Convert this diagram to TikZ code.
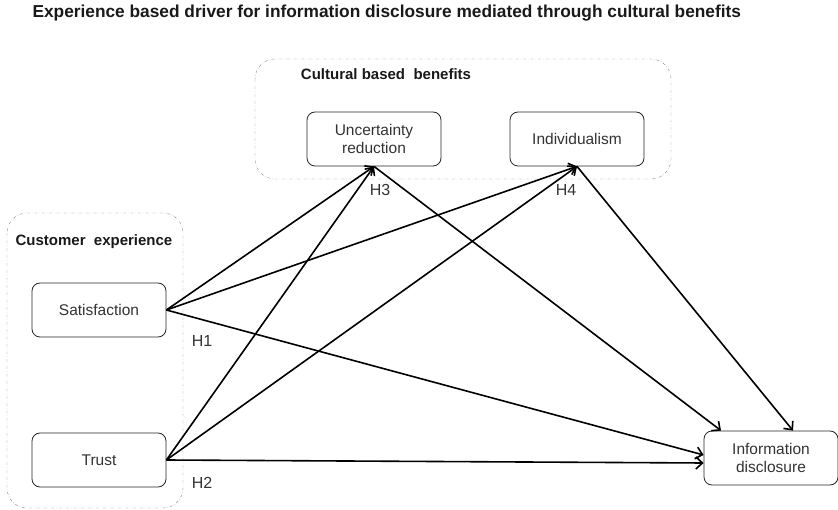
\documentclass[tikz,border=0pt]{standalone}
\usepackage{fontspec}
\setmainfont{Liberation Sans}
\usetikzlibrary{arrows.meta}
\definecolor{mGrey}{HTML}{8C8C8C}
\definecolor{mText}{HTML}{333333}

\begin{document}
\begin{tikzpicture}[x=1pt, y=-1pt,
    varbox/.style={draw=black!85, line width=0.8pt, rounded corners=8pt, minimum width=134pt,
                   minimum height=54pt, align=center, text=mText,
                   font=\fontsize{15.5}{18}\selectfont},
    groupbox/.style={draw=mGrey, dash dot, rounded corners=20pt},
    grouplabel/.style={text=black!90, font=\fontsize{15}{18}\selectfont\bfseries},
    link/.style={-{Straight Barb[length=6.5pt, width=12pt]}, line width=1.6pt},
    hlabel/.style={text=mText, font=\fontsize{16}{19}\selectfont}]
  \useasboundingbox (0,0) rectangle (838,510);
  % title
  \node[anchor=west, text=black!90, font=\fontsize{17.3}{20}\selectfont\bfseries] (title) at (29,13)
    {Experience based driver for information disclosure mediated through cultural benefits};
  % groups
  \draw[groupbox] (255,59) rectangle (671,179);
  \draw[groupbox] (7,213) rectangle (183,508);
  \node[grouplabel] (cultlbl) at (386,74) {Cultural based\ \ benefits};
  \node[grouplabel] (custlbl) at (94,242) {Customer\ \ experience};
  % variables
  \foreach \name/\x/\y/\txt in {unc/374/139/{Uncertainty\\reduction},
                                ind/577/139/Individualism,
                                sat/99/310/Satisfaction,
                                trust/99/460/Trust,
                                info/771/458/{Information\\disclosure}} {
    \node[varbox] (\name) at (\x,\y) {\txt};
  }
  % paths
  \foreach \src in {sat, trust} {
    \draw[link] (\src.east) -- (unc.south);
    \draw[link] (\src.east) -- (ind.south);
  }
  \draw[link] (sat.east) -- ([yshift=3pt]info.west);
  \draw[link] (trust.east) -- ([yshift=-5pt]info.west);
  \draw[link] (unc.south) -- ([xshift=-50pt]info.north);
  \draw[link] (ind.south) -- ([xshift=22pt]info.north);
  % hypotheses
  \foreach \name/\x/\y/\txt in {h1/202/341/H1, h2/202/483/H2, h3/380/190/H3, h4/566/190/H4} {
    \node[hlabel] (\name) at (\x,\y) {\txt};
  }
\end{tikzpicture}
\end{document}
